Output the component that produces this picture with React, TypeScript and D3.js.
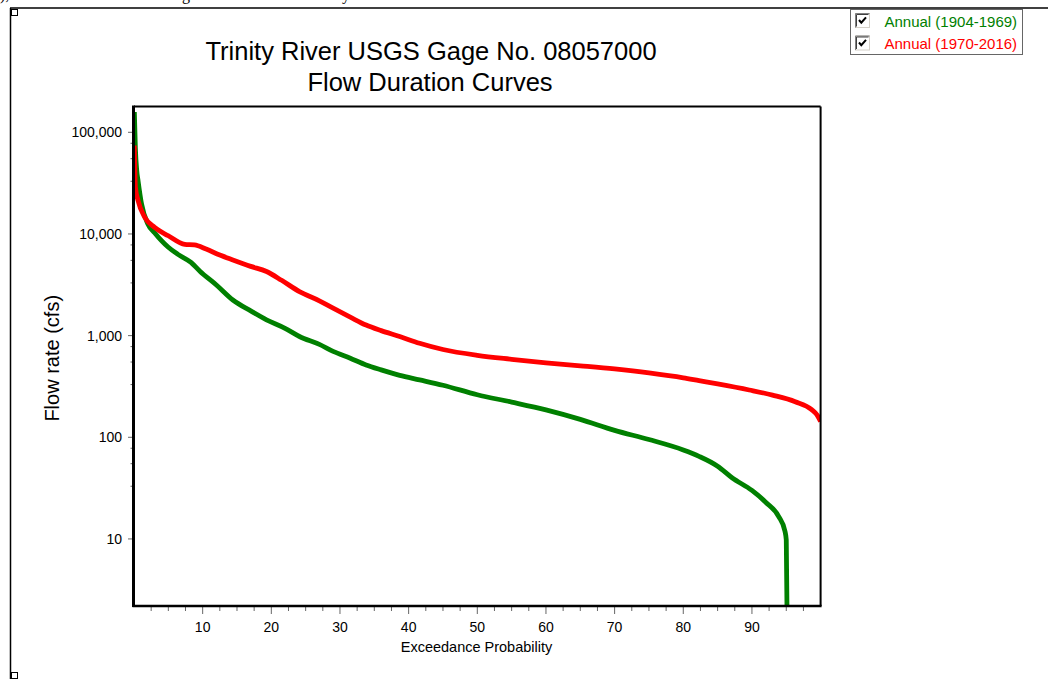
import React, { useEffect, useRef } from 'react';
import * as d3 from 'd3';

// exceedance probability (%) and flow (cfs)
const period1Prob = [0.05, 0.2, 0.4, 0.6, 1.1, 2.0, 3.0, 4.0, 5.0, 6.4, 8.3, 9.6, 12, 14.4, 17, 19.3, 22, 24.1, 27, 29, 31.5, 33.8, 36, 38.7, 41.6, 45, 50, 55, 60, 65, 70, 75, 80, 82.3, 85, 87.1, 90, 92, 93.9, 94.8, 95, 95.1];
const period1Flow = [158000, 70000, 42000, 33000, 19700, 12600, 10300, 8600, 7400, 6300, 5250, 4300, 3150, 2240, 1750, 1430, 1180, 980, 820, 700, 600, 515, 460, 406, 367, 325, 262, 222, 186, 150, 117, 95, 75, 65, 52, 40, 30, 23, 16.6, 12, 9.8, 2];

const period2Prob = [0.05, 0.2, 0.6, 1.57, 3.0, 5.0, 7.4, 8.8, 10.5, 12.5, 14.4, 17, 19.3, 21.5, 24.1, 27, 29, 31.5, 33.8, 36, 38.7, 41.6, 45, 50, 55, 60, 65, 70, 75, 80, 82.3, 85, 89.6, 93, 96.3, 98.7, 99.5, 100];
const period2Flow = [74000, 29000, 21200, 14600, 11600, 9600, 7900, 7800, 7100, 6200, 5550, 4800, 4270, 3500, 2710, 2200, 1860, 1520, 1270, 1120, 980, 840, 730, 640, 585, 540, 505, 470, 430, 385, 361, 335, 292, 260, 224, 187, 165, 143];

const seriesNames = ['Annual (1904-1969)', 'Annual (1970-2016)'];
const seriesColors = ['#008000', '#ff0000'];

const xMajorTicks = [10, 20, 30, 40, 50, 60, 70, 80, 90];
const yMajorTicks = [10, 100, 1000, 10000, 100000];
const yMinorFactors = [3.3, 5.5, 7.8];

const FONT = '"Liberation Sans", Arial, sans-serif';

const App = () => {
  const ref = useRef<SVGSVGElement | null>(null);

  useEffect(() => {
    document.body.style.margin = '0';
    const svg = d3.select(ref.current);
    svg.selectAll('*').remove();

    const x = d3.scaleLinear().domain([0, 100]).range([134, 820.6]);
    const y = d3.scaleLog().domain([2.19, 179400]).range([606, 106.5]);
    const [x0, x1] = x.range();
    const [yb, yt] = y.range();

    // page fragments (text of the surrounding document, cut at the top)
    const frame = svg.append('g');
    frame.append('text').attr('x', 0).attr('y', 0).style('font-family', 'serif').style('font-size', '16px').text('),');
    frame.append('text').attr('x', 182).attr('y', 0).style('font-family', 'serif').style('font-size', '16px').text('g');
    frame.append('text').attr('x', 342).attr('y', 0).style('font-family', 'serif').style('font-size', '16px').text('y');
    frame.append('line').attr('x1', 10).attr('x2', 1048).attr('y1', 8).attr('y2', 8).attr('stroke', '#000').attr('stroke-width', 1.5);
    frame.append('line').attr('x1', 10.5).attr('x2', 10.5).attr('y1', 8).attr('y2', 679).attr('stroke', '#000').attr('stroke-width', 1.5);
    frame.append('rect').attr('x', 11.5).attr('y', 9.5).attr('width', 6).attr('height', 6).attr('fill', '#fff').attr('stroke', '#000');
    frame.append('rect').attr('x', 11.5).attr('y', 672.5).attr('width', 6).attr('height', 6).attr('fill', '#fff').attr('stroke', '#000');

    // title
    const title = svg.append('g').style('font-family', FONT).style('font-size', '25.5px').attr('text-anchor', 'middle');
    title.append('text').attr('x', 431).attr('y', 60).text('Trinity River USGS Gage No. 08057000');
    title.append('text').attr('x', 430).attr('y', 91).text('Flow Duration Curves');

    // ticks
    const ticks = svg.append('g').attr('stroke', '#666').attr('stroke-width', 1);
    d3.range(2.5, 100, 2.5).forEach(p => {
      const major = xMajorTicks.includes(p);
      ticks.append('line').attr('x1', x(p)).attr('x2', x(p)).attr('y1', yb).attr('y2', yb + (major ? 8 : 5));
    });
    yMajorTicks.forEach(v => {
      ticks.append('line').attr('x1', x0 - 6).attr('x2', x0).attr('y1', y(v)).attr('y2', y(v));
      if (v < 100000) {
        yMinorFactors.forEach(f => {
          const mv = v * f;
          ticks.append('line').attr('x1', x0 - 3.5).attr('x2', x0).attr('y1', y(mv)).attr('y2', y(mv));
        });
      }
    });

    const labels = svg.append('g').style('font-family', FONT).style('font-size', '14px').attr('fill', '#000');
    xMajorTicks.forEach(p => {
      labels.append('text').attr('x', x(p)).attr('y', 632).attr('text-anchor', 'middle').text(p);
    });
    yMajorTicks.forEach(v => {
      labels.append('text').attr('x', 122).attr('y', y(v) + 5).attr('text-anchor', 'end').text(d3.format(',')(v));
    });

    svg.append('text').attr('x', 476.5).attr('y', 652).attr('text-anchor', 'middle')
      .style('font-family', FONT).style('font-size', '14.5px').text('Exceedance Probability');
    svg.append('text').attr('transform', `translate(59,${(yb + yt) / 2 + 2}) rotate(-90)`).attr('text-anchor', 'middle')
      .style('font-family', FONT).style('font-size', '20px').text('Flow rate (cfs)');

    // curves
    svg.append('clipPath').attr('id', 'plot-clip').append('rect')
      .attr('x', x0).attr('y', yt).attr('width', x1 - x0).attr('height', yb - yt);
    const line = d3.line<[number, number]>()
      .x(d => x(d[0]))
      .y(d => y(Math.max(d[1], 2.19)))
      .curve(d3.curveMonotoneX);
    const series: [number, number][][] = [
      period1Prob.map((p, i) => [p, period1Flow[i]]),
      period2Prob.map((p, i) => [p, period2Flow[i]]),
    ];
    const curves = svg.append('g').attr('clip-path', 'url(#plot-clip)');
    series.forEach((s, i) => {
      curves.append('path').datum(s).attr('fill', 'none').attr('stroke', seriesColors[i])
        .attr('stroke-width', 4.8).attr('stroke-linejoin', 'round').attr('d', line);
    });

    // plot frame
    const box = svg.append('g').attr('stroke', '#000').attr('fill', 'none');
    box.append('line').attr('x1', x0).attr('x2', x1).attr('y1', yt).attr('y2', yt).attr('stroke-width', 1.8);
    box.append('line').attr('x1', x1).attr('x2', x1).attr('y1', yt).attr('y2', yb).attr('stroke-width', 2);
    box.append('line').attr('x1', x0 - 1.5).attr('x2', x1 + 1).attr('y1', yb).attr('y2', yb).attr('stroke-width', 2.5);
    box.append('line').attr('x1', x0 - 0.5).attr('x2', x0 - 0.5).attr('y1', yt - 1).attr('y2', yb + 1).attr('stroke-width', 3);

    // legend
    const legend = svg.append('g');
    legend.append('rect').attr('x', 850.5).attr('y', 9.5).attr('width', 172).attr('height', 45)
      .attr('fill', '#fff').attr('stroke', '#666');
    seriesNames.forEach((name, i) => {
      const by = 13.5 + i * 22.5;
      const cb = legend.append('g').attr('transform', `translate(855.5,${by})`);
      cb.append('rect').attr('width', 14).attr('height', 14).attr('fill', '#fff').attr('stroke', '#d4d0c8');
      cb.append('path').attr('d', 'M0,14V0H14').attr('fill', 'none').attr('stroke', '#808080');
      cb.append('path').attr('d', 'M1,13V1H13').attr('fill', 'none').attr('stroke', '#404040');
      cb.append('path').attr('d', 'M3.5,6.5L5.8,9.2L10.5,3.8').attr('fill', 'none').attr('stroke', '#000').attr('stroke-width', 2);
      legend.append('text').attr('x', 884.5).attr('y', by + 13).attr('fill', seriesColors[i])
        .style('font-family', FONT).style('font-size', '15px').text(name);
    });
  }, []);

  return <svg ref={ref} width={1048} height={679} style={{ display: 'block', background: '#fff' }} />;
};

export default App;
